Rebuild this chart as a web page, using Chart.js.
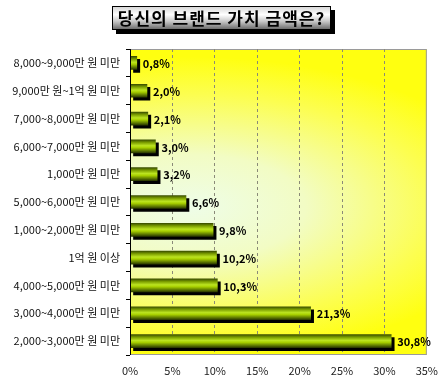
<!DOCTYPE html>
<html><head><meta charset="utf-8">
<script src="https://cdn.jsdelivr.net/npm/chart.js@4/dist/chart.umd.min.js"></script>
<style>
html,body{margin:0;padding:0;background:#fff;}
#wrap{position:relative;width:447px;height:379px;}
#title{position:absolute;left:112px;top:6px;width:219px;height:24px;box-sizing:border-box;border:1px solid #000;
background:linear-gradient(to bottom,#d8d8d8 0%,#ffffff 35%,#c8c8c8 65%,#6e6e6e 100%);
box-shadow:4px 4px 0 #000;font:bold 17px "Noto Sans CJK KR",sans-serif;color:#000;text-align:center;line-height:22px;letter-spacing:1px;}
canvas{position:absolute;left:0;top:0;}
</style></head><body>
<div id="wrap"><canvas id="c" width="447" height="379"></canvas><div id="title">당신의 브랜드 가치 금액은?</div></div>
<script>
const categories = ["8,000~9,000만 원 미만","9,000만 원~1억 원 미만","7,000~8,000만 원 미만","6,000~7,000만 원 미만","1,000만 원 미만","5,000~6,000만 원 미만","1,000~2,000만 원 미만","1억 원 이상","4,000~5,000만 원 미만","3,000~4,000만 원 미만","2,000~3,000만 원 미만"];
const values = [0.8,2.0,2.1,3.0,3.2,6.6,9.8,10.2,10.3,21.3,30.8];
const xTicks = [0,5,10,15,20,25,30,35];

const FONT = '"Noto Sans CJK KR", sans-serif';
const BAR_T = 13;

const bgPlugin = {
  id:'bg',
  beforeDraw(chart){
    const {ctx, chartArea:a} = chart;
    ctx.save();
    const cx = a.left + 60, cy = (a.top+a.bottom)/2 + 5;
    ctx.beginPath(); ctx.rect(a.left,a.top,a.right-a.left,a.bottom-a.top); ctx.clip();
    ctx.translate(cx,cy); ctx.scale(2.2,1);
    const g = ctx.createRadialGradient(0,0,0,0,0,150);
    g.addColorStop(0,'#eefde8'); g.addColorStop(0.35,'#f2fcc4'); g.addColorStop(0.75,'#fcfe50'); g.addColorStop(1,'#ffff10');
    ctx.fillStyle = g; ctx.fillRect(-300,-300,600,600);
    ctx.restore();
    ctx.save();
    ctx.strokeStyle='#9a9a9a'; ctx.lineWidth=1;
    ctx.strokeRect(a.left+0.5,a.top+0.5,a.right-a.left-1,a.bottom-a.top-1);
    ctx.restore();
  },
  beforeDatasetsDraw(chart){
    const ctx = chart.ctx;
    ctx.save();
    ctx.shadowColor='#000'; ctx.shadowOffsetX=3; ctx.shadowOffsetY=3; ctx.shadowBlur=0;
  },
  afterDatasetsDraw(chart){
    const ctx = chart.ctx;
    ctx.restore();
    const meta = chart.getDatasetMeta(0);
    ctx.save();
    ctx.font = 'bold 11px ' + FONT; ctx.fillStyle='#000'; ctx.textBaseline='middle'; ctx.textAlign='left';
    meta.data.forEach((bar,i)=>{
      ctx.fillText(values[i].toFixed(1).replace('.',',')+'%', bar.x+6, bar.y+1);
    });
    const a = chart.chartArea;
    ctx.strokeStyle='#000'; ctx.lineWidth=1;
    ctx.beginPath(); ctx.moveTo(a.left+0.5,a.top); ctx.lineTo(a.left+0.5,a.bottom); ctx.stroke();
    ctx.restore();
  }
};

new Chart(document.getElementById('c'),{
  type:'bar',
  data:{labels:categories,datasets:[{data:values,barThickness:BAR_T,borderWidth:0,
    backgroundColor(ctx){
      const chart = ctx.chart;
      if(!chart.chartArea || !chart.scales.y) return '#8fb800';
      const yc = chart.scales.y.getPixelForValue(ctx.dataIndex);
      const g = chart.ctx.createLinearGradient(0,yc-BAR_T/2,0,yc+BAR_T/2);
      g.addColorStop(0,'#3c5000'); g.addColorStop(0.2,'#7a9c00'); g.addColorStop(0.45,'#bce420');
      g.addColorStop(0.6,'#a8d000'); g.addColorStop(0.85,'#5a7400'); g.addColorStop(1,'#2c3a00');
      return g;
    }}]},
  options:{
    indexAxis:'y',responsive:false,animation:false,
    layout:{padding:{left:0,right:14,top:49,bottom:0}},
    plugins:{legend:{display:false},tooltip:{enabled:false}},
    scales:{
      x:{min:0,max:35,
        afterBuildTicks(s){ s.ticks = xTicks.map(v=>({value:v})); },
        afterFit(s){ s.height = 24; },
        border:{display:false,dash:[3,3]},
        grid:{drawTicks:false,color(c){return (c.tick.value===0||c.tick.value===35)?'rgba(0,0,0,0)':'#8a8a78';},lineWidth:1},
        ticks:{padding:9,color:'#222',font:{family:FONT,size:11},callback:(v)=>v+'%'}
      },
      y:{
        afterFit(s){ s.width = 130; },
        border:{display:false},
        grid:{drawOnChartArea:false,offset:true,tickLength:4,color:'#000'},
        ticks:{padding:6,color:'#111',font:{family:FONT,size:11}}
      }
    }
  },
  plugins:[bgPlugin]
});
</script>
</body></html>
